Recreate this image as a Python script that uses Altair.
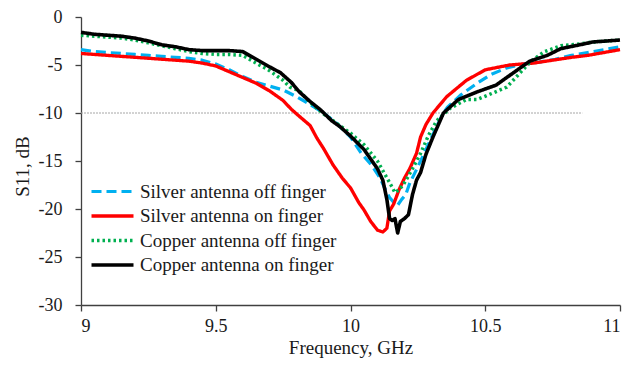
import altair as alt
import pandas as pd

SERIES = ["Silver antenna off finger", "Silver antenna on finger",
          "Copper antenna off finger", "Copper antenna on finger"]
COLORS = ["#00B0F0", "#FF0000", "#00B050", "#000000"]
DASHES = [[10, 5], [1, 0], [2.5, 3], [1, 0]]
WIDTHS = [3.2, 3.6, 3.0, 3.6]

silver_off_f = [9.00, 9.05, 9.10, 9.15, 9.20, 9.25, 9.30, 9.35, 9.40, 9.45, 9.50, 9.55, 9.60, 9.65,
                9.70, 9.75, 9.80, 9.85, 9.90, 9.95, 10.00, 10.04, 10.08, 10.11, 10.13, 10.145, 10.16,
                10.175, 10.19, 10.205, 10.22, 10.25, 10.28, 10.31, 10.34, 10.36, 10.41, 10.47, 10.52,
                10.58, 10.64, 10.70, 10.76, 10.82, 10.88, 10.94, 11.00]
silver_off_s = [-3.4, -3.6, -3.7, -3.8, -3.9, -4.0, -4.1, -4.2, -4.3, -4.5, -4.9, -5.5, -6.2, -6.8,
                -7.2, -7.6, -8.3, -9.1, -10.0, -11.1, -12.5, -14.2, -15.5, -16.8, -18.0, -18.8, -19.3,
                -19.6, -19.0, -18.5, -17.3, -15.6, -13.8, -12.0, -10.2, -9.4, -8.1, -6.9, -6.0,
                -5.3, -4.9, -4.7, -4.4, -4.0, -3.7, -3.4, -3.1]

silver_on_f = [9.00, 9.05, 9.10, 9.15, 9.20, 9.25, 9.30, 9.35, 9.40, 9.45, 9.50, 9.55, 9.60, 9.65,
               9.70, 9.75, 9.78, 9.80, 9.85, 9.875, 9.90, 9.935, 9.97, 10.00, 10.03, 10.05, 10.075,
               10.10, 10.12, 10.135, 10.145, 10.16, 10.18, 10.20, 10.22, 10.245, 10.26, 10.28, 10.306,
               10.357, 10.43, 10.50, 10.59, 10.68, 10.75, 10.82, 10.88, 10.94, 11.00]
silver_on_s = [-3.8, -3.9, -4.0, -4.1, -4.2, -4.3, -4.4, -4.5, -4.6, -4.8, -5.1, -5.7, -6.3, -6.9,
               -7.7, -8.7, -9.6, -10.1, -11.3, -12.6, -13.7, -15.4, -16.8, -17.8, -19.3, -20.1, -21.3,
               -22.2, -22.4, -22.0, -20.2, -19.5, -18.0, -16.8, -15.8, -14.2, -12.5, -11.2, -10.0,
               -8.3, -6.6, -5.5, -5.0, -4.8, -4.5, -4.2, -4.0, -3.7, -3.4]

copper_off_f = [9.00, 9.05, 9.10, 9.15, 9.20, 9.25, 9.30, 9.35, 9.40, 9.45, 9.50, 9.55, 9.60,
                9.65, 9.70, 9.75, 9.775, 9.81, 9.85, 9.90, 9.95, 10.00, 10.05,
                10.10, 10.13, 10.15, 10.165, 10.18, 10.195, 10.21, 10.23, 10.26, 10.29,
                10.32, 10.37, 10.43, 10.47, 10.53, 10.58, 10.63, 10.67, 10.72, 10.78,
                10.85, 10.90, 10.95, 11.00]
copper_off_s = [-1.9, -2.0, -2.1, -2.2, -2.4, -2.7, -3.0, -3.3, -3.6, -3.8, -3.9, -3.9, -4.0,
                -4.8, -5.6, -6.6, -7.3, -7.7, -8.9, -10.1, -11.1, -12.1, -13.3,
                -15.0, -16.5, -17.5, -18.3, -18.0, -17.5, -16.8, -15.8, -14.2, -12.3,
                -10.8, -9.5, -8.6, -8.6, -7.9, -7.3, -5.8, -4.6, -3.6, -3.0,
                -2.8, -2.6, -2.5, -2.4]

copper_on_f = [9.00, 9.05, 9.10, 9.15, 9.20, 9.25, 9.30, 9.35, 9.40, 9.45, 9.50, 9.55, 9.60,
               9.65, 9.70, 9.74, 9.78, 9.81, 9.85, 9.89, 9.93, 9.96, 10.00,
               10.05, 10.10, 10.12, 10.135, 10.145, 10.155, 10.165, 10.175, 10.185, 10.20,
               10.215, 10.23, 10.245, 10.26, 10.28, 10.306, 10.345, 10.40, 10.47, 10.54,
               10.60, 10.665, 10.73, 10.78, 10.85, 10.90, 10.95, 11.00]
copper_on_s = [-1.6, -1.8, -1.9, -2.0, -2.2, -2.5, -2.9, -3.1, -3.4, -3.5, -3.5, -3.5, -3.6,
               -4.4, -5.2, -5.8, -6.8, -7.8, -8.8, -9.7, -10.8, -11.4, -12.4,
               -13.8, -15.8, -17.0, -19.0, -21.0, -21.2, -21.0, -22.5, -21.3, -21.0,
               -20.6, -18.5, -17.0, -16.2, -14.3, -12.5, -10.0, -8.6, -7.8, -7.1,
               -5.9, -4.6, -4.0, -3.3, -2.9, -2.6, -2.5, -2.4]

ref_level = [-10]
ref_span = [9.0, 10.86]

frames = []
for name, f, s in [(SERIES[0], silver_off_f, silver_off_s),
                   (SERIES[1], silver_on_f, silver_on_s),
                   (SERIES[2], copper_off_f, copper_off_s),
                   (SERIES[3], copper_on_f, copper_on_s)]:
    frames.append(pd.DataFrame({"freq": f, "s11": s, "series": name,
                                "order": list(range(len(f)))}))
df = pd.concat(frames, ignore_index=True)
ref_df = pd.DataFrame({"x": [ref_span[0]], "x2": [ref_span[1]], "y": ref_level})

FONT = "'Liberation Serif', 'Times New Roman', serif"

x_scale = alt.Scale(domain=[9, 11], nice=False, zero=False)
y_scale = alt.Scale(domain=[-30, 0], nice=False)

ref = alt.Chart(ref_df).mark_rule(color="#a6a6a6", strokeWidth=1, strokeDash=[2, 1]).encode(
    x=alt.X("x:Q", scale=x_scale),
    x2="x2:Q",
    y=alt.Y("y:Q", scale=y_scale),
)

lines = alt.Chart(df).mark_line(strokeJoin="round").encode(
    x=alt.X("freq:Q", scale=x_scale,
            axis=alt.Axis(title="Frequency, GHz", values=[9, 9.5, 10, 10.5, 11],
                          labelExpr="'' + datum.value",
                          titleY=42, titleBaseline="middle")),
    y=alt.Y("s11:Q", scale=y_scale,
            axis=alt.Axis(title="S11, dB", values=[0, -5, -10, -15, -20, -25, -30],
                          labelExpr="datum.value < 0 ? '-' + abs(datum.value) : '' + datum.value",
                          titleX=-59, titleY=149, titleBaseline="middle", labelPadding=13)),
    color=alt.Color("series:N", scale=alt.Scale(domain=SERIES, range=COLORS),
                    legend=alt.Legend(title=None, orient="none", legendX=22, legendY=165,
                                      symbolType="M-3,0H3", symbolSize=196,
                                      labelFontSize=19, labelFont=FONT, labelColor="#1a1a1a",
                                      labelLimit=0, rowPadding=4.5, labelOffset=18, padding=0)),
    strokeDash=alt.StrokeDash("series:N", scale=alt.Scale(domain=SERIES, range=DASHES), legend=None),
    strokeWidth=alt.StrokeWidth("series:N", scale=alt.Scale(domain=SERIES, range=WIDTHS), legend=None),
    detail="series:N",
    order="order:Q",
)

chart = alt.layer(ref, lines).properties(
    width=539, height=288,
    autosize=alt.AutoSizeParams(type="none"),
    padding={"left": 81, "top": 17, "right": 21, "bottom": 60},
).configure_view(stroke=None).configure_axis(
    grid=False, domainColor="#404040", tickColor="#404040", domainWidth=1.3, tickWidth=1.3,
    tickSize=6, labelFont=FONT, labelFontSize=18, labelColor="#1a1a1a", labelPadding=6,
    titleFont=FONT, titleFontSize=19, titleFontWeight="normal", titleColor="#1a1a1a",
)

chart.save("out.html", embed_options={"renderer": "svg", "actions": False})
